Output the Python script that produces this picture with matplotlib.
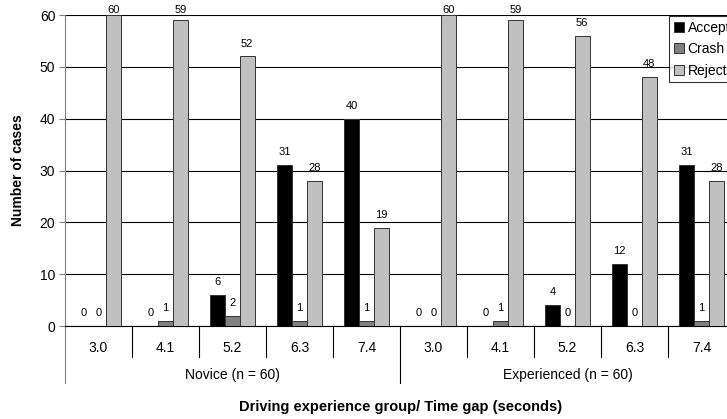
import numpy as np
import matplotlib
matplotlib.use("Agg")
import matplotlib.pyplot as plt
import matplotlib.transforms as mtransforms

plt.rcParams["font.family"] = ["Liberation Sans", "DejaVu Sans"]

groups = ["Novice (n = 60)", "Experienced (n = 60)"]
gaps = ["3.0", "4.1", "5.2", "6.3", "7.4"]
series = ["Accepted", "Crash", "Rejected"]
accepted = [0, 0, 6, 31, 40, 0, 0, 4, 12, 31]
crash = [0, 1, 2, 1, 1, 0, 1, 0, 0, 1]
rejected = [60, 59, 52, 28, 19, 60, 59, 56, 48, 28]
colors = ["#000000", "#808080", "#c0c0c0"]

W, H = 727, 419
fig = plt.figure(figsize=(W / 100, H / 100), dpi=100)
# plot area runs past the right edge of the picture, as in the original
ax = fig.add_axes([65 / W, 1 - 326 / H, 670 / W, 311 / H])

x = np.arange(len(accepted))
bw = 0.22
for k, (vals, col) in enumerate(zip([accepted, crash, rejected], colors)):
    pos = x + (k - 1) * bw
    ax.bar(pos, vals, width=bw, color=col, edgecolor="#333333", lw=0.7,
           label=series[k], zorder=3)
    for xi, v in zip(pos, vals):
        ax.text(xi, min(v + 2.5, 61.0), str(v), ha="center", va="center",
                fontsize=8, zorder=4)

ax.set_xlim(-0.5, 9.5)
ax.set_ylim(0, 60)
ax.set_yticks(range(0, 61, 10))
ax.tick_params(axis="y", labelsize=10, length=4, color="#808080", pad=3)
ax.set_xticks([])
ax.yaxis.grid(True, color="black", lw=0.8, zorder=1)
ax.set_axisbelow(True)
for s in ["top", "right"]:
    ax.spines[s].set_visible(False)
ax.spines["left"].set_color("#808080")
ax.spines["bottom"].set_color("black")
ax.spines["bottom"].set_linewidth(0.8)

# category / group labels under the axis
trans = mtransforms.blended_transform_factory(ax.transData, fig.transFigure)
for i in range(len(accepted)):
    ax.text(i, 1 - 348 / H, gaps[i % 5], transform=trans, ha="center",
            va="center", fontsize=10)
for g, name in enumerate(groups):
    ax.text(2 + 5 * g, 1 - 375 / H, name, transform=trans, ha="center",
            va="center", fontsize=10)
for b in np.arange(-0.5, 10, 1.0):
    long_line = b in (-0.5, 4.5, 9.5)
    y1 = 1 - (383 if long_line else 357) / H
    col = "#808080" if b == -0.5 else "black"
    ax.plot([b, b], [1 - 326 / H, y1], transform=trans, color=col, lw=0.8,
            clip_on=False)

fig.text(18 / W, 1 - 170 / H, "Number of cases", rotation=90,
         ha="center", va="center", fontsize=10, fontweight="bold")
fig.text(401 / W, 1 - 407 / H, "Driving experience group/ Time gap (seconds)",
         ha="center", va="center", fontsize=10.5, fontweight="bold")

leg = fig.legend(loc="upper left", bbox_to_anchor=(669 / W, 1 - 16 / H),
                 fontsize=10, frameon=True, fancybox=False, edgecolor="black",
                 handlelength=0.7, handleheight=0.7, handletextpad=0.3,
                 labelspacing=0.53, borderpad=0.35, borderaxespad=0)
leg.get_frame().set_linewidth(0.8)

fig.savefig("out.png", dpi=100)
